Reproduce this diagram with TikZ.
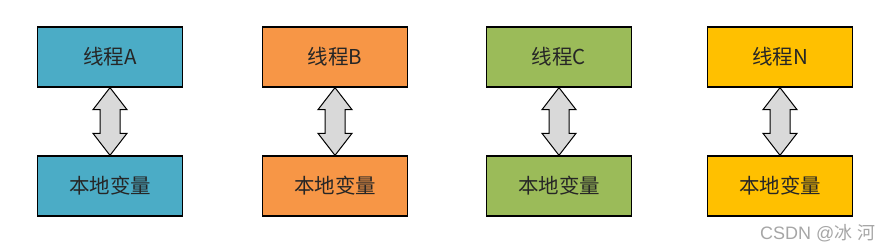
\documentclass[tikz,border=0pt]{standalone}
\usepackage{fontspec}
\usepackage{tikz}
\usetikzlibrary{calc}
\newfontfamily\cjk{Noto Sans CJK SC}
\setsansfont{Liberation Sans}
\definecolor{ThA}{HTML}{4BACC6}
\definecolor{ThB}{HTML}{F79646}
\definecolor{ThC}{HTML}{9BBB59}
\definecolor{ThN}{HTML}{FFC000}
\definecolor{Link}{HTML}{D9D9D9}
\definecolor{Mark}{HTML}{A6A6A6}
\tikzset{
  box/.style={draw=black,line width=1.3pt,minimum width=145pt,minimum height=60pt,
    inner sep=0pt,font=\cjk\fontsize{20.5}{24}\selectfont,text=black!85},
  linkarrow/.style={draw=black,line width=1pt,fill=Link,line join=miter}
}
% double block arrow between two boxes
\newcommand{\linkboxes}[2]{%
  \draw[linkarrow] (#1.south) -- ++(17,22) -- ++(-7,0)
    -- ($(#2.north)+(10,-22)$) -- ++(7,0) -- (#2.north)
    -- ++(-17,-22) -- ++(7,0)
    -- ($(#1.south)+(-10,22)$) -- ++(-7,0) -- cycle;}

\begin{document}
\begin{tikzpicture}[x=1pt,y=-1pt]
  \useasboundingbox (0,0) rectangle (892,251);
  \foreach \i/\x/\col in {A/110/ThA, B/335/ThB, C/559/ThC, N/780/ThN} {
    \node[box,fill=\col] (th\i) at (\x,57) {线程\i};
    \node[box,fill=\col] (var\i) at (\x,186) {本地变量};
    \linkboxes{th\i}{var\i}
  }
  \node[font=\sffamily\fontsize{18}{21}\selectfont,text=Mark,anchor=east] (mark) at (879,233)
    {CSDN @{\cjk 冰} {\cjk 河}};
\end{tikzpicture}
\end{document}
